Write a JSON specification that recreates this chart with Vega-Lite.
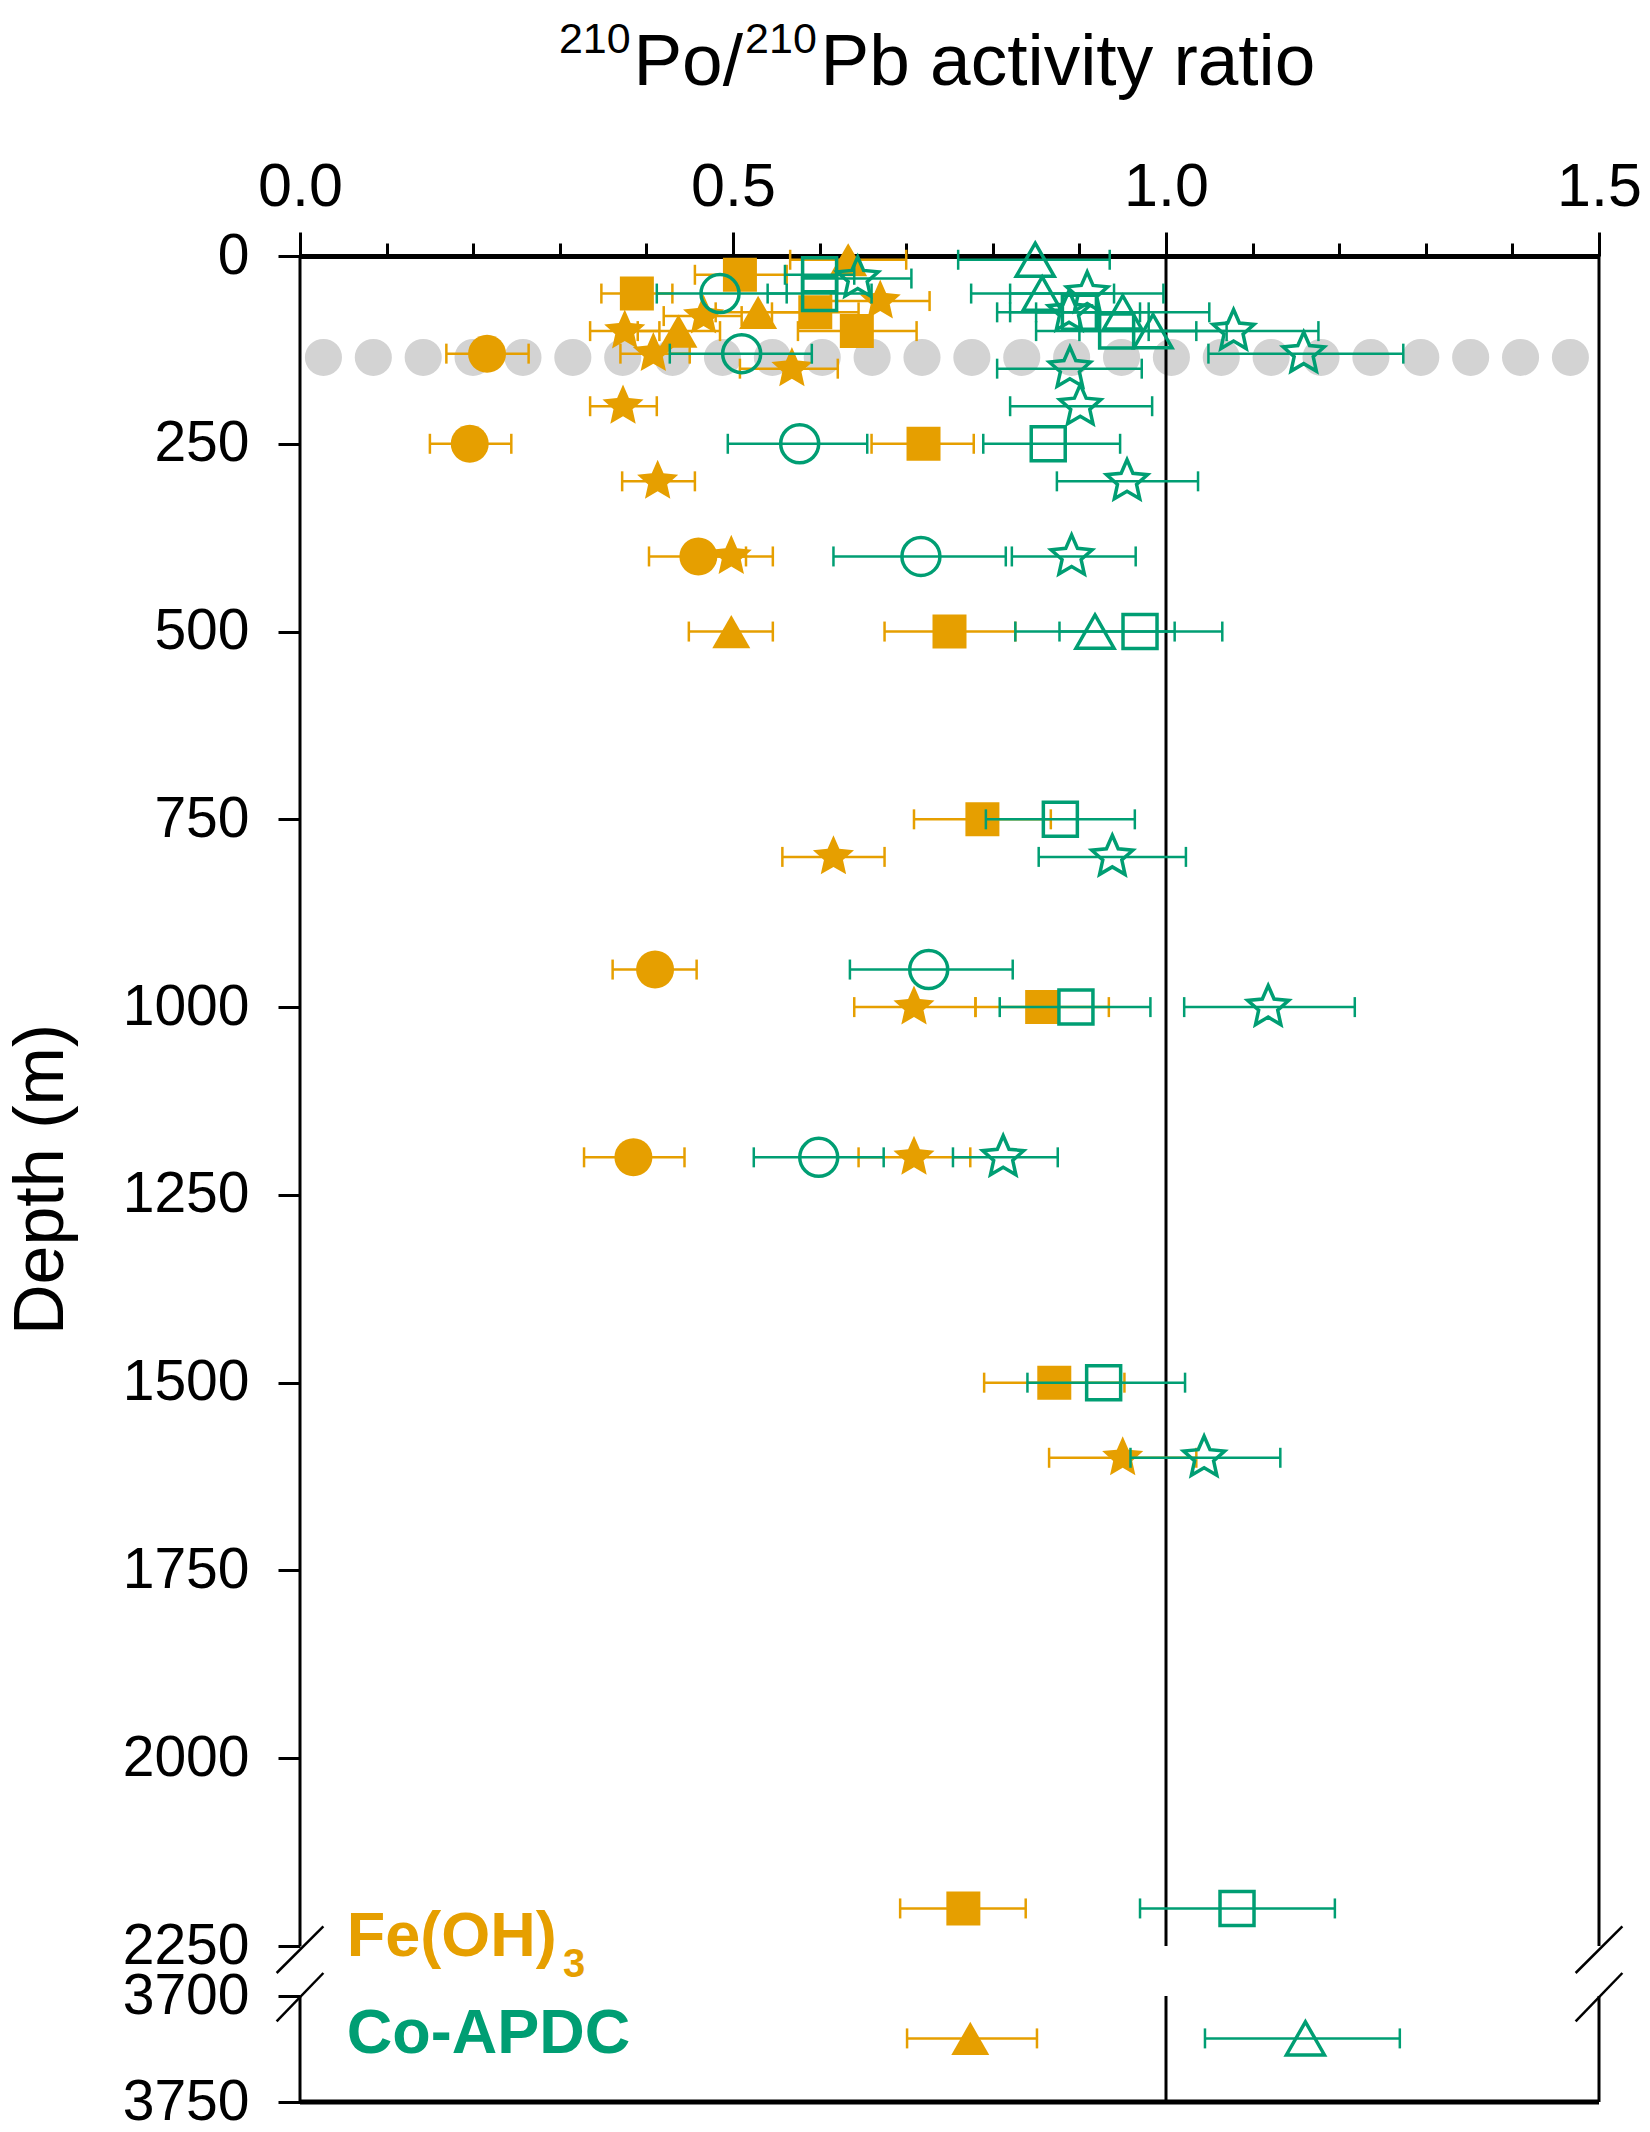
{
  "$schema": "https://vega.github.io/schema/vega-lite/v6.json",
  "width": 1299,
  "height": 1846,
  "autosize": {"type": "none"},
  "padding": {"left": 300, "top": 256, "right": 51, "bottom": 30},
  "background": "white",
  "config": {
    "font": "Liberation Sans",
    "view": {"stroke": null},
    "axis": {
      "grid": false, "labelFlush": false, "labelOverlap": false,
      "tickColor": "black", "domainColor": "black", "labelColor": "black", "titleColor": "black",
      "labelFont": "Liberation Sans", "titleFont": "Liberation Sans"
    },
    "axisY": {
      "domain": false, "tickSize": 22, "tickWidth": 3, "labelFontSize": 57, "labelPadding": 29, "format": "d",
      "titleFontSize": 70, "titleFontWeight": "normal", "titleX": -238, "titleBaseline": "alphabetic"
    }
  },
  "datasets": {
    "pts": [
      {"method": "Fe(OH)3", "station": "A", "depth": 130, "ratio": 0.216, "lo": 0.169, "hi": 0.264},
      {"method": "Fe(OH)3", "station": "A", "depth": 250, "ratio": 0.196, "lo": 0.150, "hi": 0.244},
      {"method": "Fe(OH)3", "station": "A", "depth": 400, "ratio": 0.460, "lo": 0.403, "hi": 0.515},
      {"method": "Fe(OH)3", "station": "A", "depth": 950, "ratio": 0.410, "lo": 0.361, "hi": 0.458},
      {"method": "Fe(OH)3", "station": "A", "depth": 1200, "ratio": 0.385, "lo": 0.328, "hi": 0.444},
      {"method": "Fe(OH)3", "station": "B", "depth": 25, "ratio": 0.508, "lo": 0.456, "hi": 0.562},
      {"method": "Fe(OH)3", "station": "B", "depth": 50, "ratio": 0.389, "lo": 0.348, "hi": 0.430},
      {"method": "Fe(OH)3", "station": "B", "depth": 75, "ratio": 0.595, "lo": 0.545, "hi": 0.645},
      {"method": "Fe(OH)3", "station": "B", "depth": 100, "ratio": 0.643, "lo": 0.575, "hi": 0.712},
      {"method": "Fe(OH)3", "station": "B", "depth": 250, "ratio": 0.720, "lo": 0.660, "hi": 0.778},
      {"method": "Fe(OH)3", "station": "B", "depth": 500, "ratio": 0.750, "lo": 0.675, "hi": 0.826},
      {"method": "Fe(OH)3", "station": "B", "depth": 750, "ratio": 0.788, "lo": 0.709, "hi": 0.867},
      {"method": "Fe(OH)3", "station": "B", "depth": 1000, "ratio": 0.857, "lo": 0.780, "hi": 0.934},
      {"method": "Fe(OH)3", "station": "B", "depth": 1500, "ratio": 0.871, "lo": 0.790, "hi": 0.952},
      {"method": "Fe(OH)3", "station": "B", "depth": 2200, "ratio": 0.766, "lo": 0.693, "hi": 0.838},
      {"method": "Fe(OH)3", "station": "C", "depth": 5, "ratio": 0.633, "lo": 0.566, "hi": 0.700},
      {"method": "Fe(OH)3", "station": "C", "depth": 75, "ratio": 0.529, "lo": 0.480, "hi": 0.580},
      {"method": "Fe(OH)3", "station": "C", "depth": 100, "ratio": 0.437, "lo": 0.390, "hi": 0.485},
      {"method": "Fe(OH)3", "station": "C", "depth": 500, "ratio": 0.498, "lo": 0.449, "hi": 0.546},
      {"method": "Fe(OH)3", "station": "C", "depth": 3720, "ratio": 0.774, "lo": 0.701, "hi": 0.851},
      {"method": "Fe(OH)3", "station": "D", "depth": 60, "ratio": 0.670, "lo": 0.613, "hi": 0.727},
      {"method": "Fe(OH)3", "station": "D", "depth": 80, "ratio": 0.466, "lo": 0.420, "hi": 0.510},
      {"method": "Fe(OH)3", "station": "D", "depth": 100, "ratio": 0.375, "lo": 0.335, "hi": 0.415},
      {"method": "Fe(OH)3", "station": "D", "depth": 130, "ratio": 0.408, "lo": 0.370, "hi": 0.450},
      {"method": "Fe(OH)3", "station": "D", "depth": 150, "ratio": 0.568, "lo": 0.508, "hi": 0.621},
      {"method": "Fe(OH)3", "station": "D", "depth": 200, "ratio": 0.373, "lo": 0.335, "hi": 0.412},
      {"method": "Fe(OH)3", "station": "D", "depth": 300, "ratio": 0.413, "lo": 0.372, "hi": 0.456},
      {"method": "Fe(OH)3", "station": "D", "depth": 400, "ratio": 0.498, "lo": 0.450, "hi": 0.546},
      {"method": "Fe(OH)3", "station": "D", "depth": 800, "ratio": 0.616, "lo": 0.557, "hi": 0.675},
      {"method": "Fe(OH)3", "station": "D", "depth": 1000, "ratio": 0.709, "lo": 0.640, "hi": 0.780},
      {"method": "Fe(OH)3", "station": "D", "depth": 1200, "ratio": 0.709, "lo": 0.645, "hi": 0.774},
      {"method": "Fe(OH)3", "station": "D", "depth": 1600, "ratio": 0.950, "lo": 0.865, "hi": 1.035},
      {"method": "Co-APDC", "station": "A", "depth": 50, "ratio": 0.485, "lo": 0.412, "hi": 0.562},
      {"method": "Co-APDC", "station": "A", "depth": 130, "ratio": 0.510, "lo": 0.427, "hi": 0.591},
      {"method": "Co-APDC", "station": "A", "depth": 250, "ratio": 0.577, "lo": 0.494, "hi": 0.655},
      {"method": "Co-APDC", "station": "A", "depth": 400, "ratio": 0.717, "lo": 0.616, "hi": 0.815},
      {"method": "Co-APDC", "station": "A", "depth": 950, "ratio": 0.726, "lo": 0.635, "hi": 0.823},
      {"method": "Co-APDC", "station": "A", "depth": 1200, "ratio": 0.599, "lo": 0.524, "hi": 0.674},
      {"method": "Co-APDC", "station": "B", "depth": 25, "ratio": 0.600, "lo": 0.560, "hi": 0.640},
      {"method": "Co-APDC", "station": "B", "depth": 50, "ratio": 0.600, "lo": 0.540, "hi": 0.660},
      {"method": "Co-APDC", "station": "B", "depth": 75, "ratio": 0.900, "lo": 0.820, "hi": 0.980},
      {"method": "Co-APDC", "station": "B", "depth": 100, "ratio": 0.943, "lo": 0.850, "hi": 1.035},
      {"method": "Co-APDC", "station": "B", "depth": 250, "ratio": 0.864, "lo": 0.789, "hi": 0.947},
      {"method": "Co-APDC", "station": "B", "depth": 500, "ratio": 0.970, "lo": 0.877, "hi": 1.065},
      {"method": "Co-APDC", "station": "B", "depth": 750, "ratio": 0.878, "lo": 0.792, "hi": 0.964},
      {"method": "Co-APDC", "station": "B", "depth": 1000, "ratio": 0.896, "lo": 0.808, "hi": 0.982},
      {"method": "Co-APDC", "station": "B", "depth": 1500, "ratio": 0.928, "lo": 0.840, "hi": 1.022},
      {"method": "Co-APDC", "station": "B", "depth": 2200, "ratio": 1.082, "lo": 0.970, "hi": 1.195},
      {"method": "Co-APDC", "station": "C", "depth": 5, "ratio": 0.849, "lo": 0.760, "hi": 0.935},
      {"method": "Co-APDC", "station": "C", "depth": 50, "ratio": 0.857, "lo": 0.775, "hi": 0.940},
      {"method": "Co-APDC", "station": "C", "depth": 75, "ratio": 0.950, "lo": 0.850, "hi": 1.050},
      {"method": "Co-APDC", "station": "C", "depth": 100, "ratio": 0.985, "lo": 0.900, "hi": 1.070},
      {"method": "Co-APDC", "station": "C", "depth": 500, "ratio": 0.918, "lo": 0.826, "hi": 1.010},
      {"method": "Co-APDC", "station": "C", "depth": 3720, "ratio": 1.161, "lo": 1.045, "hi": 1.270},
      {"method": "Co-APDC", "station": "D", "depth": 30, "ratio": 0.644, "lo": 0.580, "hi": 0.706},
      {"method": "Co-APDC", "station": "D", "depth": 50, "ratio": 0.909, "lo": 0.820, "hi": 0.997},
      {"method": "Co-APDC", "station": "D", "depth": 75, "ratio": 0.888, "lo": 0.805, "hi": 0.970},
      {"method": "Co-APDC", "station": "D", "depth": 100, "ratio": 1.078, "lo": 0.980, "hi": 1.176},
      {"method": "Co-APDC", "station": "D", "depth": 130, "ratio": 1.159, "lo": 1.049, "hi": 1.274},
      {"method": "Co-APDC", "station": "D", "depth": 150, "ratio": 0.889, "lo": 0.805, "hi": 0.972},
      {"method": "Co-APDC", "station": "D", "depth": 200, "ratio": 0.901, "lo": 0.820, "hi": 0.984},
      {"method": "Co-APDC", "station": "D", "depth": 300, "ratio": 0.955, "lo": 0.874, "hi": 1.037},
      {"method": "Co-APDC", "station": "D", "depth": 400, "ratio": 0.891, "lo": 0.822, "hi": 0.965},
      {"method": "Co-APDC", "station": "D", "depth": 800, "ratio": 0.938, "lo": 0.853, "hi": 1.023},
      {"method": "Co-APDC", "station": "D", "depth": 1000, "ratio": 1.118, "lo": 1.021, "hi": 1.218},
      {"method": "Co-APDC", "station": "D", "depth": 1200, "ratio": 0.812, "lo": 0.754, "hi": 0.875},
      {"method": "Co-APDC", "station": "D", "depth": 1600, "ratio": 1.044, "lo": 0.959, "hi": 1.132}
    ],
    "mld": [{"depth": 135, "from": 0.027, "to": 1.467}],
    "frame": [
      {"ratio": 0, "top": 0, "bottom": 2250},
      {"ratio": 0, "top": 3700, "bottom": 3750},
      {"ratio": 1, "top": 0, "bottom": 2250},
      {"ratio": 1, "top": 3700, "bottom": 3750},
      {"ratio": 1.5, "top": 0, "bottom": 2250},
      {"ratio": 1.5, "top": 3700, "bottom": 3750}
    ],
    "base": [{"depth": 3750, "from": 0, "to": 1.5}],
    "breaks": [
      {"x1": -0.027, "x2": 0.027, "y1": 3033, "y2": 2224},
      {"x1": -0.027, "x2": 0.027, "y1": 3712, "y2": 3033},
      {"x1": 1.473, "x2": 1.527, "y1": 3033, "y2": 2224},
      {"x1": 1.473, "x2": 1.527, "y1": 3712, "y2": 3033}
    ],
    "one": [{}]
  },
  "resolve": {"axis": {"x": "independent"}},
  "layer": [
    {
      "data": {"name": "mld"},
      "mark": {"type": "rule", "color": "#d3d3d3", "strokeWidth": 37, "strokeCap": "round", "strokeDash": [0.1, 49.78]},
      "encoding": {
        "x": {"field": "from", "type": "quantitative", "scale": {"domain": [0, 1.5], "nice": false, "zero": false},
          "axis": {"orient": "top", "values": [0.1, 0.2, 0.3, 0.4, 0.6, 0.7, 0.8, 0.9, 1.1, 1.2, 1.3, 1.4], "labels": false, "domain": false, "tickSize": 13, "tickWidth": 3, "title": null}},
        "x2": {"field": "to"},
        "y": {"field": "depth", "type": "quantitative", "title": "Depth (m)", "scale": {"domain": [0, 2250, 3700, 3750], "range": [0, 1690, 1740, 1846], "nice": false, "zero": false}}
      }
    },
    {
      "data": {"name": "frame"},
      "mark": {"type": "rule", "color": "black", "strokeWidth": 3},
      "encoding": {
        "x": {"field": "ratio", "type": "quantitative", "scale": {"domain": [0, 1.5], "nice": false, "zero": false},
          "axis": {"orient": "top", "values": [0, 0.5, 1, 1.5], "format": ".1f", "tickSize": 24, "tickWidth": 3, "domainWidth": 5,
            "labelFontSize": 61, "labelBaseline": "alphabetic", "labelPadding": 27, "title": null}},
        "y": {"field": "top", "type": "quantitative", "title": "Depth (m)", "scale": {"domain": [0, 2250, 3700, 3750], "range": [0, 1690, 1740, 1846], "nice": false, "zero": false},
          "axis": {"values": [0, 250, 500, 750, 1000, 1250, 1500, 1750, 2000, 2250, 3700, 3750]}},
        "y2": {"field": "bottom"}
      }
    },
    {
      "data": {"name": "base"},
      "mark": {"type": "rule", "color": "black", "strokeWidth": 5},
      "encoding": {
        "x": {"field": "from", "type": "quantitative", "scale": {"domain": [0, 1.5], "nice": false, "zero": false}, "axis": null},
        "x2": {"field": "to"},
        "y": {"field": "depth", "type": "quantitative", "title": "Depth (m)", "scale": {"domain": [0, 2250, 3700, 3750], "range": [0, 1690, 1740, 1846], "nice": false, "zero": false}}
      }
    },
    {
      "data": {"name": "breaks"},
      "mark": {"type": "rule", "color": "black", "strokeWidth": 2.5},
      "encoding": {
        "x": {"field": "x1", "type": "quantitative", "scale": {"domain": [0, 1.5], "nice": false, "zero": false}, "axis": null},
        "x2": {"field": "x2"},
        "y": {"field": "y1", "type": "quantitative", "title": "Depth (m)", "scale": {"domain": [0, 2250, 3700, 3750], "range": [0, 1690, 1740, 1846], "nice": false, "zero": false}},
        "y2": {"field": "y2"}
      }
    },
    {
      "data": {"name": "pts"},
      "transform": [{"filter": "datum.method === 'Fe(OH)3'"}],
      "mark": {"type": "rule", "color": "#E69F00", "strokeWidth": 2.5},
      "encoding": {
        "x": {"field": "lo", "type": "quantitative", "scale": {"domain": [0, 1.5], "nice": false, "zero": false}, "axis": null},
        "x2": {"field": "hi"},
        "y": {"field": "depth", "type": "quantitative", "title": "Depth (m)", "scale": {"domain": [0, 2250, 3700, 3750], "range": [0, 1690, 1740, 1846], "nice": false, "zero": false}}
      }
    },
    {
      "data": {"name": "pts"},
      "transform": [{"filter": "datum.method === 'Fe(OH)3'"}, {"fold": ["lo", "hi"], "as": ["end", "xv"]}],
      "mark": {"type": "tick", "orient": "vertical", "color": "#E69F00", "size": 20, "thickness": 2.5, "opacity": 1},
      "encoding": {
        "x": {"field": "xv", "type": "quantitative", "scale": {"domain": [0, 1.5], "nice": false, "zero": false}, "axis": null},
        "y": {"field": "depth", "type": "quantitative", "title": "Depth (m)", "scale": {"domain": [0, 2250, 3700, 3750], "range": [0, 1690, 1740, 1846], "nice": false, "zero": false}}
      }
    },
    {
      "data": {"name": "pts"},
      "transform": [{"filter": "datum.method === 'Fe(OH)3'"}],
      "mark": {"type": "point", "filled": true, "color": "#E69F00", "size": 1600, "opacity": 1},
      "encoding": {
        "x": {"field": "ratio", "type": "quantitative", "scale": {"domain": [0, 1.5], "nice": false, "zero": false}, "axis": null},
        "y": {"field": "depth", "type": "quantitative", "title": "Depth (m)", "scale": {"domain": [0, 2250, 3700, 3750], "range": [0, 1690, 1740, 1846], "nice": false, "zero": false}},
        "shape": {"field": "station", "type": "nominal", "legend": null,
          "scale": {"domain": ["A", "B", "C", "D"], "range": [
            "M-0.95,0A0.95,0.95 0 1,0 0.95,0A0.95,0.95 0 1,0 -0.95,0Z",
            "M-0.85,-0.85H0.85V0.85H-0.85Z",
            "M0,-0.83L0.95,0.83L-0.95,0.83Z",
            "M0,-1.08L0.294,-0.405L1.027,-0.334L0.476,0.155L0.635,0.874L0,0.5L-0.635,0.874L-0.476,0.155L-1.027,-0.334L-0.294,-0.405Z"]}}
      }
    },
    {
      "data": {"name": "pts"},
      "transform": [{"filter": "datum.method === 'Co-APDC'"}],
      "mark": {"type": "rule", "color": "#009E73", "strokeWidth": 2.5},
      "encoding": {
        "x": {"field": "lo", "type": "quantitative", "scale": {"domain": [0, 1.5], "nice": false, "zero": false}, "axis": null},
        "x2": {"field": "hi"},
        "y": {"field": "depth", "type": "quantitative", "title": "Depth (m)", "scale": {"domain": [0, 2250, 3700, 3750], "range": [0, 1690, 1740, 1846], "nice": false, "zero": false}}
      }
    },
    {
      "data": {"name": "pts"},
      "transform": [{"filter": "datum.method === 'Co-APDC'"}, {"fold": ["lo", "hi"], "as": ["end", "xv"]}],
      "mark": {"type": "tick", "orient": "vertical", "color": "#009E73", "size": 20, "thickness": 2.5, "opacity": 1},
      "encoding": {
        "x": {"field": "xv", "type": "quantitative", "scale": {"domain": [0, 1.5], "nice": false, "zero": false}, "axis": null},
        "y": {"field": "depth", "type": "quantitative", "title": "Depth (m)", "scale": {"domain": [0, 2250, 3700, 3750], "range": [0, 1690, 1740, 1846], "nice": false, "zero": false}}
      }
    },
    {
      "data": {"name": "pts"},
      "transform": [{"filter": "datum.method === 'Co-APDC'"}],
      "mark": {"type": "point", "filled": false, "color": "#009E73", "size": 1600, "strokeWidth": 3.5, "opacity": 1},
      "encoding": {
        "x": {"field": "ratio", "type": "quantitative", "scale": {"domain": [0, 1.5], "nice": false, "zero": false}, "axis": null},
        "y": {"field": "depth", "type": "quantitative", "title": "Depth (m)", "scale": {"domain": [0, 2250, 3700, 3750], "range": [0, 1690, 1740, 1846], "nice": false, "zero": false}},
        "shape": {"field": "station", "type": "nominal", "legend": null,
          "scale": {"domain": ["A", "B", "C", "D"], "range": [
            "M-0.95,0A0.95,0.95 0 1,0 0.95,0A0.95,0.95 0 1,0 -0.95,0Z",
            "M-0.85,-0.85H0.85V0.85H-0.85Z",
            "M0,-0.83L0.95,0.83L-0.95,0.83Z",
            "M0,-1.08L0.294,-0.405L1.027,-0.334L0.476,0.155L0.635,0.874L0,0.5L-0.635,0.874L-0.476,0.155L-1.027,-0.334L-0.294,-0.405Z"]}}
      }
    },
    {
      "data": {"name": "one"},
      "mark": {"type": "text", "align": "left", "baseline": "alphabetic", "fontSize": 43, "color": "black"},
      "encoding": {
        "x": {"datum": 0.299, "type": "quantitative", "scale": {"domain": [0, 1.5], "nice": false, "zero": false}, "axis": null},
        "y": {"datum": -270, "type": "quantitative", "title": "Depth (m)", "scale": {"domain": [0, 2250, 3700, 3750], "range": [0, 1690, 1740, 1846], "nice": false, "zero": false}},
        "text": {"value": "210"}
      }
    },
    {
      "data": {"name": "one"},
      "mark": {"type": "text", "align": "left", "baseline": "alphabetic", "fontSize": 73, "color": "black"},
      "encoding": {
        "x": {"datum": 0.385, "type": "quantitative", "scale": {"domain": [0, 1.5], "nice": false, "zero": false}, "axis": null},
        "y": {"datum": -228, "type": "quantitative", "title": "Depth (m)", "scale": {"domain": [0, 2250, 3700, 3750], "range": [0, 1690, 1740, 1846], "nice": false, "zero": false}},
        "text": {"value": "Po/"}
      }
    },
    {
      "data": {"name": "one"},
      "mark": {"type": "text", "align": "left", "baseline": "alphabetic", "fontSize": 43, "color": "black"},
      "encoding": {
        "x": {"datum": 0.514, "type": "quantitative", "scale": {"domain": [0, 1.5], "nice": false, "zero": false}, "axis": null},
        "y": {"datum": -270, "type": "quantitative", "title": "Depth (m)", "scale": {"domain": [0, 2250, 3700, 3750], "range": [0, 1690, 1740, 1846], "nice": false, "zero": false}},
        "text": {"value": "210"}
      }
    },
    {
      "data": {"name": "one"},
      "mark": {"type": "text", "align": "left", "baseline": "alphabetic", "fontSize": 73, "color": "black"},
      "encoding": {
        "x": {"datum": 0.601, "type": "quantitative", "scale": {"domain": [0, 1.5], "nice": false, "zero": false}, "axis": null},
        "y": {"datum": -228, "type": "quantitative", "title": "Depth (m)", "scale": {"domain": [0, 2250, 3700, 3750], "range": [0, 1690, 1740, 1846], "nice": false, "zero": false}},
        "text": {"value": "Pb activity ratio"}
      }
    },
    {
      "data": {"name": "one"},
      "mark": {"type": "text", "align": "left", "baseline": "alphabetic", "fontSize": 63, "fontWeight": "bold", "color": "#E69F00"},
      "encoding": {
        "x": {"datum": 0.054, "type": "quantitative", "scale": {"domain": [0, 1.5], "nice": false, "zero": false}, "axis": null},
        "y": {"datum": 2540, "type": "quantitative", "title": "Depth (m)", "scale": {"domain": [0, 2250, 3700, 3750], "range": [0, 1690, 1740, 1846], "nice": false, "zero": false}},
        "text": {"value": "Fe(OH)"}
      }
    },
    {
      "data": {"name": "one"},
      "mark": {"type": "text", "align": "left", "baseline": "alphabetic", "fontSize": 40, "fontWeight": "bold", "color": "#E69F00"},
      "encoding": {
        "x": {"datum": 0.3037, "type": "quantitative", "scale": {"domain": [0, 1.5], "nice": false, "zero": false}, "axis": null},
        "y": {"datum": 3150, "type": "quantitative", "title": "Depth (m)", "scale": {"domain": [0, 2250, 3700, 3750], "range": [0, 1690, 1740, 1846], "nice": false, "zero": false}},
        "text": {"value": "3"}
      }
    },
    {
      "data": {"name": "one"},
      "mark": {"type": "text", "align": "left", "baseline": "alphabetic", "fontSize": 63, "fontWeight": "bold", "color": "#009E73"},
      "encoding": {
        "x": {"datum": 0.054, "type": "quantitative", "scale": {"domain": [0, 1.5], "nice": false, "zero": false}, "axis": null},
        "y": {"datum": 3727, "type": "quantitative", "title": "Depth (m)", "scale": {"domain": [0, 2250, 3700, 3750], "range": [0, 1690, 1740, 1846], "nice": false, "zero": false}},
        "text": {"value": "Co-APDC"}
      }
    }
  ]
}
